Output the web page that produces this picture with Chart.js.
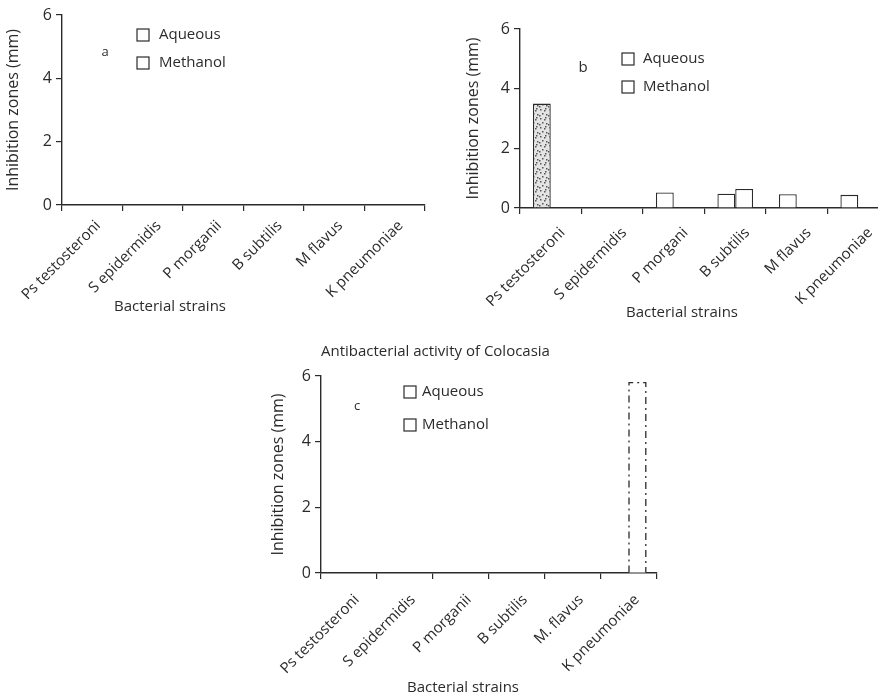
<!DOCTYPE html>
<html>
<head>
<meta charset="utf-8">
<script src="https://cdn.jsdelivr.net/npm/chart.js@4.4.1/dist/chart.umd.min.js"></script>
<style>
html, body { margin: 0; padding: 0; background: #fff; overflow: hidden; width: 878px; height: 699px; }
canvas { position: absolute; }
</style>
</head>
<body>
<canvas id="chartA" width="440" height="330" style="left:0;top:0"></canvas>
<canvas id="chartB" width="459" height="330" style="left:440px;top:0"></canvas>
<canvas id="chartC" width="444" height="364" style="left:225px;top:335px"></canvas>
<script>
// strain names as printed on each panel
const strainsA = ['Ps testosteroni', 'S epidermidis', 'P morganii', 'B subtilis', 'M flavus', 'K pneumoniae'];
const strainsB = ['Ps testosteroni', 'S epidermidis', 'P morgani', 'B subtilis', 'M flavus', 'K pneumoniae'];
const strainsC = ['Ps testosteroni', 'S epidermidis', 'P morganii', 'B subtilis', 'M. flavus', 'K pneumoniae'];

// inhibition zones (mm)
const aqueousA  = [0, 0, 0, 0, 0, 0];
const methanolA = [0, 0, 0, 0, 0, 0];
const aqueousB  = [3.5, 0, 0.52, 0.48, 0.46, 0.44];
const methanolB = [0, 0, 0, 0.64, 0, 0];
const aqueousC  = [0, 0, 0, 0, 0, 0];
const methanolC = [0, 0, 0, 0, 0, 5.8];

const seriesNames = ['Aqueous', 'Methanol'];
const yMax = 6;
const yStep = 2;

const INK = '#2b2b2b';
const FONT = "'Open Sans', 'DejaVu Sans', sans-serif";

// speckled fill for the one shaded bar
function stipple() {
    const c = document.createElement('canvas');
    c.width = 9; c.height = 9;
    const g = c.getContext('2d');
    g.fillStyle = '#e4e4e4';
    g.fillRect(0, 0, 9, 9);
    g.fillStyle = '#555';
    [[1, 1], [5, 2], [3, 5], [7, 6], [0, 7], [6, 0]].forEach(p => g.fillRect(p[0], p[1], 1.5, 1.5));
    return g.createPattern(c, 'repeat');
}

// letters, legend and x title drawn inside the panel
const panelText = {
    id: 'panelText',
    afterDraw(chart, args, o) {
        const ctx = chart.ctx;
        const a = chart.chartArea;
        ctx.save();
        ctx.fillStyle = INK;
        ctx.textBaseline = 'middle';
        if (o.letter) {
            ctx.font = o.letter.size + 'px ' + FONT;
            ctx.textAlign = 'center';
            ctx.fillText(o.letter.text, a.left + o.letter.dx, a.top + o.letter.dy);
        }
        if (o.legend) {
            ctx.font = '15px ' + FONT;
            ctx.textAlign = 'left';
            chart.data.datasets.forEach((ds, i) => {
                const cx = a.left + o.legend.dx;
                const cy = a.top + o.legend.dy + i * o.legend.step;
                ctx.fillStyle = '#fff';
                ctx.fillRect(cx - 6, cy - 6, 12, 12);
                ctx.strokeStyle = INK;
                ctx.lineWidth = 1.2;
                ctx.strokeRect(cx - 6, cy - 6, 12, 12);
                ctx.fillStyle = INK;
                ctx.fillText(ds.label, cx + o.legend.gap, cy);
            });
        }
        if (o.xTitle) {
            ctx.font = '15px ' + FONT;
            ctx.textAlign = 'center';
            ctx.fillText(o.xTitle.text, a.left + o.xTitle.dx, a.bottom + o.xTitle.dy);
        }
        ctx.restore();
    }
};

// dashed outline for datasets flagged dashed
const dashedBars = {
    id: 'dashedBars',
    afterDatasetsDraw(chart) {
        const ctx = chart.ctx;
        chart.data.datasets.forEach((ds, i) => {
            if (!ds.dashed) return;
            chart.getDatasetMeta(i).data.forEach((bar, j) => {
                if (!ds.data[j]) return;
                const l = bar.x - bar.width / 2, r = bar.x + bar.width / 2;
                ctx.save();
                ctx.strokeStyle = INK;
                ctx.lineWidth = 1.3;
                ctx.setLineDash([7, 4, 2, 4]);
                ctx.beginPath();
                ctx.moveTo(l, bar.base);
                ctx.lineTo(l, bar.y);
                ctx.lineTo(r, bar.y);
                ctx.lineTo(r, bar.base);
                ctx.stroke();
                ctx.restore();
            });
        });
    }
};

function makeChart(id, p) {
    const ctx = document.getElementById(id).getContext('2d');
    return new Chart(ctx, {
        type: 'bar',
        data: {
            labels: p.labels,
            datasets: [
                {
                    label: seriesNames[0],
                    data: p.aqueous,
                    backgroundColor: p.aqueousFill || '#fff',
                    borderColor: INK,
                    borderWidth: 1.3
                },
                {
                    label: seriesNames[1],
                    data: p.methanol,
                    backgroundColor: '#fff',
                    borderColor: INK,
                    borderWidth: p.methanolDashed ? 0 : 1.3,
                    dashed: !!p.methanolDashed
                }
            ]
        },
        options: {
            responsive: false,
            animation: false,
            categoryPercentage: p.catPct,
            barPercentage: 1.0,
            layout: { padding: p.padding },
            scales: {
                x: {
                    offset: true,
                    grid: { offset: true, drawOnChartArea: false, tickLength: 6, color: INK, lineWidth: 1.2 },
                    border: { color: INK, width: 1.4 },
                    ticks: {
                        color: INK, font: { family: FONT, size: 15 },
                        maxRotation: 45, minRotation: 45, autoSkip: false,
                        padding: p.tickPad, labelOffset: p.tickShift
                    },
                    afterFit: s => { s.height = p.xHeight; }
                },
                y: {
                    min: 0,
                    max: yMax,
                    grid: { drawOnChartArea: false, tickLength: 6, color: INK, lineWidth: 1.2 },
                    border: { color: INK, width: 1.4 },
                    ticks: { stepSize: yStep, color: INK, font: { family: FONT, size: 16 }, padding: 4 },
                    title: { display: true, text: 'Inhibition zones (' + p.unit + ')', color: INK, font: { family: FONT, size: 16 }, padding: 2 },
                    afterFit: s => { s.width = p.yWidth; }
                }
            },
            plugins: {
                legend: { display: false },
                tooltip: { enabled: false },
                title: p.title ? {
                    display: true,
                    text: p.title,
                    align: 'start',
                    fullSize: false,
                    color: INK,
                    font: { family: FONT, size: 15, weight: 'normal' },
                    padding: { top: 8, bottom: 15 }
                } : { display: false },
                panelText: {
                    letter: p.letter,
                    legend: p.legend,
                    xTitle: { text: 'Bacterial strains', dx: p.xTitle[0], dy: p.xTitle[1] }
                }
            }
        },
        plugins: [panelText, dashedBars]
    });
}

makeChart('chartA', {
    labels: strainsA, aqueous: aqueousA, methanol: methanolA, unit: 'mm',
    padding: { left: 2, top: 15, right: 15, bottom: 0 },
    yWidth: 60, xHeight: 125, catPct: 0.58, tickPad: 6, tickShift: 6,
    letter: { text: 'a', size: 13, dx: 43, dy: 37 },
    legend: { dx: 81, dy: 20, step: 28, gap: 16 },
    xTitle: [108, 102]
});

makeChart('chartB', {
    labels: strainsB, aqueous: aqueousB, methanol: methanolB, unit: 'mm',
    aqueousFill: [stipple(), '#fff', '#fff', '#fff', '#fff', '#fff'],
    padding: { left: 22, top: 29, right: 10, bottom: 0 },
    yWidth: 58, xHeight: 122, catPct: 0.58, tickPad: 10, tickShift: 12,
    letter: { text: 'b', size: 15, dx: 63, dy: 39 },
    legend: { dx: 108, dy: 30, step: 28, gap: 15 },
    xTitle: [162, 105]
});

makeChart('chartC', {
    labels: strainsC, aqueous: aqueousC, methanol: methanolC, unit: 'mm',
    methanolDashed: true,
    title: 'Antibacterial activity of Colocasia',
    padding: { left: 42, top: 0, right: 12, bottom: 0 },
    yWidth: 54, xHeight: 126, catPct: 0.6, tickPad: 12, tickShift: 8,
    letter: { text: 'c', size: 13, dx: 36, dy: 30 },
    legend: { dx: 89, dy: 16, step: 33, gap: 12 },
    xTitle: [142, 115]
});
</script>
</body>
</html>
